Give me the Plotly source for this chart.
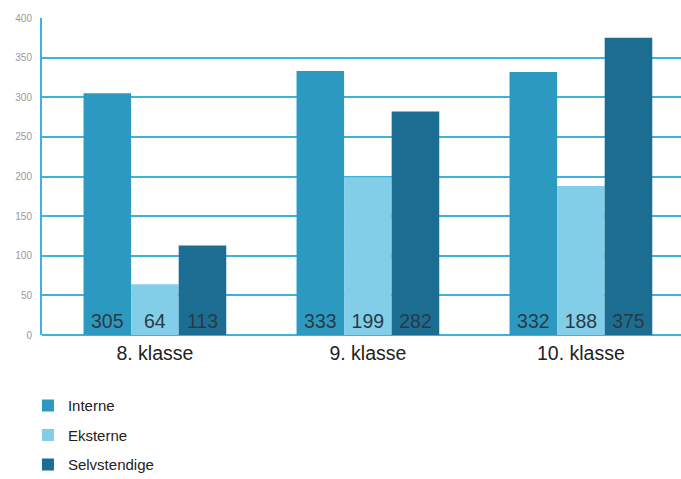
import plotly.graph_objects as go

categories = ["8. klasse", "9. klasse", "10. klasse"]
series_names = ["Interne", "Eksterne", "Selvstendige"]
interne = [305, 333, 332]
eksterne = [64, 199, 188]
selvstendige = [113, 282, 375]
y_ticks = [0, 50, 100, 150, 200, 250, 300, 350, 400]

colors = ["#2c9ac0", "#82cde8", "#1c6d92"]
values = [interne, eksterne, selvstendige]

fig = go.Figure()
for i, (name, vals) in enumerate(zip(series_names, values)):
    fig.add_trace(go.Bar(
        x=categories, y=vals, name=name, legendgroup=name,
        marker=dict(color=colors[i], line=dict(width=0)),
        text=[str(v) for v in vals], textposition="inside",
        insidetextanchor="start", textangle=0,
        textfont=dict(size=19.5, color="#2a3a44", family="Liberation Sans, Arial, sans-serif"),
    ))

fig.update_layout(
    width=681, height=479,
    margin=dict(l=42, r=0, t=18, b=144, autoexpand=False),
    paper_bgcolor="white", plot_bgcolor="white",
    barmode="group", bargap=0.33, bargroupgap=0,
    font=dict(family="Liberation Sans, Arial, sans-serif", color="#222"),
    xaxis=dict(
        range=[-0.53, 2.47],
        tickfont=dict(size=19.5, color="#222"), showgrid=False, showline=False,
        ticks="", ticklabelstandoff=4,
    ),
    yaxis=dict(
        range=[0, 400], tickvals=y_ticks, showgrid=True, gridcolor="#3fb2dc", gridwidth=1.5,
        showline=True, linecolor="#3fb2dc", linewidth=2, zeroline=True,
        zerolinecolor="#3fb2dc", zerolinewidth=1.5,
        tickfont=dict(size=10, color="#999"), ticks="", ticklabelstandoff=6,
    ),
    legend=dict(
        x=-0.022, y=-0.171, xanchor="left", yanchor="top",
        font=dict(size=15, color="#222"), tracegroupgap=7,
        traceorder="grouped", bgcolor="rgba(0,0,0,0)",
    ),
)

fig.write_html("out.html")
